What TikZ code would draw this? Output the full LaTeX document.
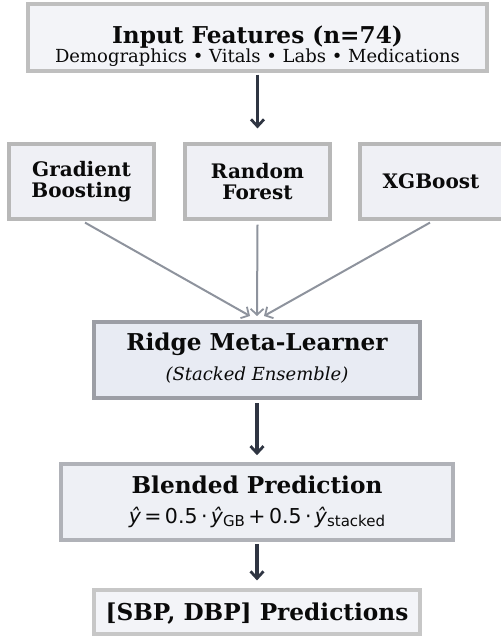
\documentclass[tikz,border=0pt]{standalone}
\usepackage{fontspec}
\setmainfont{DejaVu Serif}
\newfontfamily\dvs{DejaVu Sans}
\usetikzlibrary{arrows.meta}
\definecolor{dark}{HTML}{2F3542}
\definecolor{graya}{HTML}{8E939D}
\definecolor{txt}{HTML}{0A0A0A}
\tikzset{
  box/.style={draw, line width=3.2pt, inner sep=0pt, anchor=center},
  ttl/.style={font=\bfseries, text=txt, inner sep=0pt, anchor=base, align=center},
  sub/.style={text=txt, inner sep=0pt, anchor=base},
  bigarrow/.style={draw=dark, line width=3.3pt, -{Straight Barb[length=7pt,width=13pt,line width=2.8pt]}},
  thinarrow/.style={draw=graya, line width=2pt, -{Straight Barb[length=6pt,width=13pt,line width=1.8pt]}}
}
\begin{document}
\begin{tikzpicture}[x=1pt,y=-1pt]
\useasboundingbox (0,0) rectangle (500,636);
% boxes
\node[box, draw=black!25!white, fill={rgb,255:red,243;green,244;blue,248}, minimum width=459pt, minimum height=67pt] (inp) at (257.5,37.5) {};
\node[box, draw=black!28!white, fill={rgb,255:red,239;green,240;blue,245}, minimum width=145pt, minimum height=75pt] (gb) at (81.5,181.5) {};
\node[box, draw=black!28!white, fill={rgb,255:red,239;green,240;blue,245}, minimum width=145pt, minimum height=75pt] (rf) at (257.5,181.5) {};
\node[box, draw=black!28!white, fill={rgb,255:red,239;green,240;blue,245}, minimum width=145pt, minimum height=75pt] (xgb) at (432.5,181.5) {};
\node[box, draw={rgb,255:red,156;green,158;blue,165}, line width=4pt, fill={rgb,255:red,232;green,235;blue,243}, minimum width=326pt, minimum height=76pt] (ridge) at (257,360) {};
\node[box, draw={rgb,255:red,176;green,178;blue,184}, line width=3.6pt, fill={rgb,255:red,238;green,240;blue,245}, minimum width=392pt, minimum height=76pt] (blend) at (257,502) {};
\node[box, draw=black!22!white, fill={rgb,255:red,243;green,244;blue,248}, minimum width=326pt, minimum height=44pt] (outp) at (257,612) {};
% texts
\node[ttl, font=\bfseries\fontsize{23.2}{26}\selectfont] (inpt) at (257.5,44) {Input Features (n=74)};
\node[sub, font=\fontsize{18}{20}\selectfont] (inps) at (257.5,62.5) {Demographics • Vitals • Labs • Medications};
\node[ttl, font=\bfseries\fontsize{20}{22}\selectfont, anchor=center] (gbt) at (81.5,181.5) {Gradient\\[-1pt]Boosting};
\node[ttl, font=\bfseries\fontsize{20}{22}\selectfont, anchor=center] (rft) at (257.5,181.5) {Random\\[-1pt]Forest};
\node[ttl, font=\bfseries\fontsize{20}{22}\selectfont] (xgbt) at (431,188.5) {XGBoost};
\node[ttl, font=\bfseries\fontsize{23.2}{26}\selectfont] (ridget) at (257,350.5) {Ridge Meta-Learner};
\node[sub, font=\itshape\fontsize{18}{20}\selectfont] (ridges) at (257,380) {(Stacked Ensemble)};
\node[ttl, font=\bfseries\fontsize{23.2}{26}\selectfont] (blendt) at (257,493) {Blended Prediction};
\node[sub, font=\dvs\fontsize{20.5}{22}\selectfont] (blends) at (257,523) {{\itshape ŷ}\,=\,0.5\,·\,{\itshape ŷ}\raisebox{-3.5pt}{\fontsize{15}{16}\selectfont GB}\,+\,0.5\,·\,{\itshape ŷ}\raisebox{-3.5pt}{\fontsize{15}{16}\selectfont stacked}};
\node[ttl, font=\bfseries\fontsize{23.2}{26}\selectfont] (outt) at (257,620) {[SBP, DBP] Predictions};
% connectors
\draw[bigarrow] ([yshift=-2pt]inp.south) -- ([yshift=14pt]rf.north);
\draw[thinarrow] ([xshift=3.5pt,yshift=-2pt]gb.south) -- ([xshift=-7pt,yshift=4pt]ridge.north);
\draw[thinarrow] ([yshift=-4pt]rf.south) -- ([yshift=4pt]ridge.north);
\draw[thinarrow] ([xshift=-2.5pt,yshift=-2pt]xgb.south) -- ([xshift=7pt,yshift=4pt]ridge.north);
\draw[bigarrow] ([yshift=-3pt]ridge.south) -- ([yshift=7pt]blend.north);
\draw[bigarrow] ([yshift=-2pt]blend.south) -- ([yshift=8pt]outp.north);
\end{tikzpicture}
\end{document}
